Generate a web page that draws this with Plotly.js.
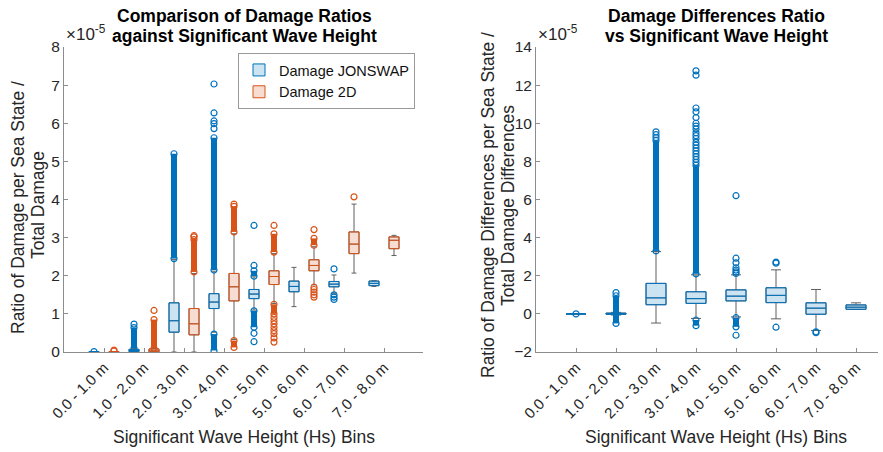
<!DOCTYPE html>
<html>
<head>
<meta charset="utf-8">
<script src="https://cdn.plot.ly/plotly-3.0.1.min.js"></script>
<style>
  html, body { margin: 0; padding: 0; background: #fff; }
  #chart { width: 883px; height: 452px; }
</style>
</head>
<body>
<div id="chart"></div>
<script>
// Hs bins shared by both panels
const binLabels = ['0.0 - 1.0 m', '1.0 - 2.0 m', '2.0 - 3.0 m', '3.0 - 4.0 m',
                   '4.0 - 5.0 m', '5.0 - 6.0 m', '6.0 - 7.0 m', '7.0 - 8.0 m'];

// Damage ratio per sea state / total damage (units of 1e-5), JONSWAP spectrum
const jonswapQ1     = [0.00, 0.01, 0.52, 1.14, 1.40, 1.58, 1.71, 1.74];
const jonswapMedian = [0.00, 0.03, 0.82, 1.31, 1.52, 1.72, 1.78, 1.80];
const jonswapQ3     = [0.01, 0.07, 1.29, 1.53, 1.64, 1.86, 1.85, 1.86];
const jonswapLow    = [0.00, 0.00, 0.00, 0.52, 1.10, 1.19, 1.54, 1.72];
const jonswapHigh   = [0.01, 0.09, 2.43, 2.12, 1.97, 2.22, 2.02, 1.87];
const jonswapDense  = [[], [[0.10, 0.64]], [[2.45, 5.20]], [[2.15, 5.62], [0.04, 0.47]],
                       [[1.99, 2.13], [0.65, 1.08]], [], [], []];
const jonswapOutliers = [[0.01], [0.73], [], [5.86, 5.99, 6.06, 6.27, 7.03],
                         [2.27, 3.32, 0.49, 0.27], [], [2.18, 1.50, 1.44, 1.38], []];

// Damage ratio per sea state / total damage (units of 1e-5), 2D spectrum
const twoDQ1     = [0.00, 0.00, 0.45, 1.34, 1.77, 2.13, 2.58, 2.71];
const twoDMedian = [0.00, 0.02, 0.74, 1.71, 1.98, 2.27, 2.83, 2.93];
const twoDQ3     = [0.01, 0.08, 1.14, 2.06, 2.13, 2.42, 3.15, 3.02];
const twoDLow    = [0.00, 0.00, 0.00, 0.33, 1.27, 1.76, 2.07, 2.53];
const twoDHigh   = [0.01, 0.09, 2.06, 3.10, 2.58, 2.76, 3.88, 3.06];
const twoDDense  = [[], [[0.10, 0.85]], [[2.10, 2.95]], [[3.15, 3.82], [0.12, 0.30]],
                    [[2.62, 3.10], [1.00, 1.25]], [[2.80, 2.98]], [], []];
const twoDOutliers = [[0.02, 0.05], [1.09], [3.02, 3.05], [3.88],
                      [3.32, 0.91, 0.82, 0.74, 0.65, 0.56, 0.48, 0.37, 0.26],
                      [3.21, 1.70, 1.64, 1.57, 1.50, 1.44], [4.07], []];

// Damage differences per sea state / total damage differences (units of 1e-5)
const diffQ1     = [0.00, -0.02, 0.48, 0.55, 0.68, 0.59, -0.02, 0.24];
const diffMedian = [0.00, 0.00, 0.84, 0.80, 0.93, 0.97, 0.30, 0.35];
const diffQ3     = [0.00, 0.04, 1.60, 1.16, 1.26, 1.37, 0.58, 0.47];
const diffLow    = [0.00, -0.06, -0.48, -0.24, -0.16, -0.26, -0.87, 0.23];
const diffHigh   = [0.00, 0.08, 3.27, 2.05, 2.05, 2.31, 1.28, 0.58];
const diffDense  = [[], [[-0.50, 0.95]], [[3.30, 9.10]], [[2.10, 7.80], [-0.32, -0.62]],
                    [[-0.20, -0.68]], [], [], []];
const diffOutliers = [[0.00], [1.12], [9.25, 9.40, 9.55],
                      [7.95, 8.10, 8.25, 8.40, 8.55, 8.70, 8.85, 9.00, 9.20, 9.35, 9.50,
                       9.70, 9.85, 10.00, 10.30, 10.60, 10.80, 12.52, 12.75],
                      [2.12, 2.20, 2.30, 2.42, 2.68, 2.92, 6.20, -1.12],
                      [2.66, 2.72, -0.70], [-0.94, -0.99], []];

const BLUE = '#0072BD';
const ORANGE = '#D95319';
const BLUE_FILL = 'rgba(0,114,189,0.2)';
const ORANGE_FILL = 'rgba(217,83,25,0.2)';
const WHISKER = '#5f5f5f';
const AXIS = '#8c8c8c';
const FONT = 'Liberation Sans, Arial, Helvetica, sans-serif';

const binIndex = binLabels.map((_, i) => i);

// One box series: grey whiskers underneath, coloured box body on top, then outliers
function boxSeries(stats, offset, width, color, fill, name, legend, xa, ya) {
  const pos = binIndex.map(i => i + offset);
  const whiskers = {
    type: 'box', x: pos, q1: stats.q1, median: stats.median, q3: stats.q3,
    lowerfence: stats.low, upperfence: stats.high,
    width: width, whiskerwidth: 0.5, boxpoints: false,
    line: { color: WHISKER, width: 1 }, fillcolor: 'rgba(0,0,0,0)',
    xaxis: xa, yaxis: ya, showlegend: false, hoverinfo: 'skip'
  };
  const body = {
    type: 'box', x: pos, q1: stats.q1, median: stats.median, q3: stats.q3,
    lowerfence: stats.q1, upperfence: stats.q3,
    width: width, whiskerwidth: 0, boxpoints: false,
    line: { color: color, width: 1 }, fillcolor: fill,
    name: name, xaxis: xa, yaxis: ya, showlegend: legend
  };
  // Runs of outliers so dense that the circles merge into a solid column
  const dx = [], dy = [];
  stats.dense.forEach((spans, i) => spans.forEach(s => {
    dx.push(pos[i], pos[i], null); dy.push(s[0], s[1], null);
  }));
  const dense = {
    type: 'scatter', mode: 'lines+markers', x: dx, y: dy, connectgaps: false,
    line: { color: color, width: 6 },
    marker: { symbol: 'circle-open', size: 6, color: color, line: { width: 1.2 } },
    xaxis: xa, yaxis: ya, showlegend: false, hoverinfo: 'skip'
  };
  const ox = [], oy = [];
  stats.outliers.forEach((vals, i) => vals.forEach(v => { ox.push(pos[i]); oy.push(v); }));
  const sparse = {
    type: 'scatter', mode: 'markers', x: ox, y: oy,
    marker: { symbol: 'circle-open', size: 6, color: color, line: { width: 1.2 } },
    xaxis: xa, yaxis: ya, showlegend: false
  };
  return [whiskers, body, dense, sparse];
}

const jonswap = { q1: jonswapQ1, median: jonswapMedian, q3: jonswapQ3, low: jonswapLow,
                  high: jonswapHigh, dense: jonswapDense, outliers: jonswapOutliers };
const twoD = { q1: twoDQ1, median: twoDMedian, q3: twoDQ3, low: twoDLow,
               high: twoDHigh, dense: twoDDense, outliers: twoDOutliers };
const diff = { q1: diffQ1, median: diffMedian, q3: diffQ3, low: diffLow,
               high: diffHigh, dense: diffDense, outliers: diffOutliers };

const traces = [].concat(
  boxSeries(jonswap, -0.25, 0.25, BLUE, BLUE_FILL, 'Damage JONSWAP', true, 'x', 'y'),
  boxSeries(twoD, 0.25, 0.25, ORANGE, ORANGE_FILL, 'Damage 2D', true, 'x', 'y'),
  boxSeries(diff, 0, 0.5, BLUE, BLUE_FILL, 'Differences', false, 'x2', 'y2')
);

const W = 883, H = 452;
const px = v => v / W;
const py = v => 1 - v / H;

const xCommon = {
  tickvals: binIndex, ticktext: binLabels, tickangle: -45,
  ticks: 'inside', ticklen: 4, tickcolor: AXIS, showline: true, linecolor: AXIS, linewidth: 1,
  showgrid: false, zeroline: false, tickfont: { size: 15, color: '#262626', family: FONT }
};
const yCommon = {
  ticks: 'inside', ticklen: 4, tickcolor: AXIS, showline: true, linecolor: AXIS, linewidth: 1,
  showgrid: false, zeroline: false, tickfont: { size: 15.5, color: '#262626', family: FONT }
};

function label(text, x, y, opts) {
  return Object.assign({
    text: text, xref: 'paper', yref: 'paper', x: px(x), y: py(y),
    xanchor: 'center', yanchor: 'middle', showarrow: false,
    font: { size: 17.5, color: '#262626', family: FONT }
  }, opts || {});
}

const titleFont = { size: 17.5, color: '#000', family: FONT };
const expFont = { size: 17, color: '#262626', family: FONT };

const layout = {
  width: W, height: H,
  margin: { l: 0, r: 0, t: 0, b: 0 },
  paper_bgcolor: '#fff', plot_bgcolor: '#fff',
  boxmode: 'overlay',
  font: { family: FONT, color: '#262626' },
  xaxis: Object.assign({ domain: [px(64), px(423)], range: [-1, 7.975], anchor: 'y' }, xCommon),
  yaxis: Object.assign({ domain: [py(352), py(47)], range: [0, 8], dtick: 1, anchor: 'x' }, yCommon),
  xaxis2: Object.assign({ domain: [px(536), px(878)], range: [-1, 7.55], anchor: 'y2' }, xCommon),
  yaxis2: Object.assign({ domain: [py(352), py(47)], range: [-2, 14], dtick: 2, anchor: 'x2' }, yCommon),
  legend: {
    x: px(415), y: py(53), xanchor: 'right', yanchor: 'top',
    bgcolor: '#fff', bordercolor: '#9a9a9a', borderwidth: 1,
    font: { size: 14.5, color: '#111', family: FONT }, tracegroupgap: 0
  },
  annotations: [
    label('<b>Comparison of Damage Ratios</b>', 244, 16, { font: titleFont }),
    label('<b>against Significant Wave Height</b>', 244, 36, { font: titleFont }),
    label('<b>Damage Differences Ratio</b>', 716, 16, { font: titleFont }),
    label('<b>vs Significant Wave Height</b>', 716, 36, { font: titleFont }),
    label('Significant Wave Height (Hs) Bins', 244, 437),
    label('Significant Wave Height (Hs) Bins', 716, 437),
    label('Ratio of Damage per Sea State /', 18, 208, { textangle: -90 }),
    label('Total Damage', 38, 205, { textangle: -90 }),
    label('Ratio of Damage Differences per Sea State /', 488, 205, { textangle: -90 }),
    label('Total Damage Differences', 508, 205, { textangle: -90 }),
    label('\u00d710<sup>-5</sup>', 64, 46, { xanchor: 'left', yanchor: 'bottom', font: expFont }),
    label('\u00d710<sup>-5</sup>', 536, 46, { xanchor: 'left', yanchor: 'bottom', font: expFont })
  ]
};

Plotly.newPlot('chart', traces, layout, { displayModeBar: false, staticPlot: true });
</script>
</body>
</html>
